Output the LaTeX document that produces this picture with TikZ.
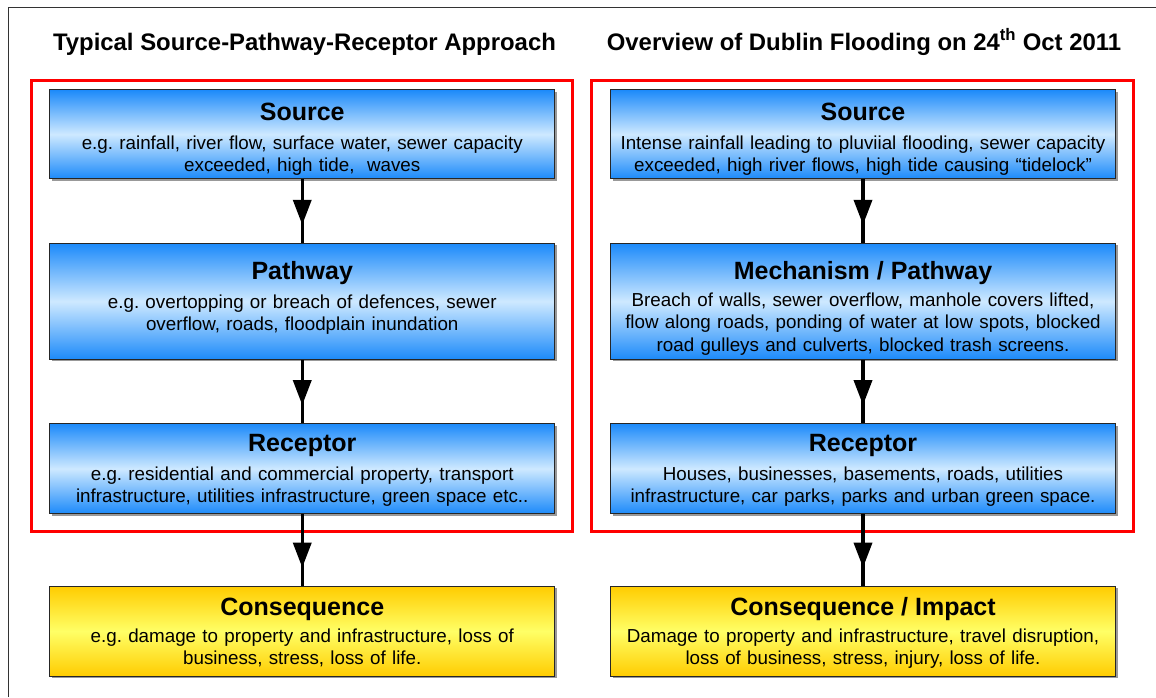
\documentclass[tikz,border=0pt]{standalone}
\usepackage{fontspec}
\setmainfont{Liberation Sans}
\usetikzlibrary{arrows.meta,decorations.markings,shadows}
\definecolor{bTop}{RGB}{28,138,250}
\definecolor{bMid}{RGB}{206,233,255}
\definecolor{yTop}{RGB}{255,204,0}
\definecolor{yMid}{RGB}{255,255,102}
\definecolor{frameRed}{RGB}{255,0,0}
\frenchspacing
\begin{document}
\frenchspacing
\begin{tikzpicture}[x=1pt,y=-1pt,
  box/.style={draw=black!85, line width=1.1pt, minimum width=505pt, inner sep=0pt,
    general shadow={fill=black!40, shadow xshift=2pt, shadow yshift=-2pt}},
  bluebox/.style={box, top color=bTop, bottom color=bTop, middle color=bMid},
  yellowbox/.style={box, top color=yTop, bottom color=yTop, middle color=yMid},
  heading/.style={font=\fontsize{23.9}{28}\selectfont\bfseries, anchor=base, inner sep=0pt},
  boxtitle/.style={font=\fontsize{25}{30}\selectfont\bfseries, anchor=base, inner sep=0pt},
  boxbody/.style={font=\fontsize{18.8}{22.8}\selectfont, anchor=base, inner sep=0pt, align=center, text width=500pt},
  redframe/.style={draw=frameRed, line width=3pt},
  flow/.style={line width=3.5pt, black, decoration={markings,
    mark=at position -18pt with {\arrow{Triangle[width=18pt,length=25pt]}}}, postaction={decorate}}
]
\useasboundingbox (0,0) rectangle (1156,697);
% outer border (clipped)
\draw[black!80, line width=1pt] (8.5,697) -- (8.5,7.5) -- (1156,7.5);

% headings
\node[heading] (h1) at (304.5,50) {Typical Source-Pathway-Receptor Approach};
\node[heading] (h2) at (864,50) {Overview of Dublin Flooding on 24\textsuperscript{th} Oct 2011};

% red frames
\draw[redframe] (31.5,80.5) rectangle (572.5,531.5);
\draw[redframe] (591.5,80.5) rectangle (1133.5,531.5);

% ---------- left column ----------
\node[bluebox, minimum height=89pt] (s1) at (302.25,134.3) {};
\node[boxtitle] at (302.25,120) {Source};
\node[boxbody] at (302.25,149) {e.g.\ rainfall, river flow, surface water, sewer capacity\\exceeded, high tide,\ \ waves};

\node[bluebox, minimum height=116pt] (p1) at (302.25,301.4) {};
\node[boxtitle] at (302.25,279) {Pathway};
\node[boxbody] at (302.25,308) {e.g.\ overtopping or breach of defences, sewer\\overflow, roads, floodplain inundation};

\node[bluebox, minimum height=90pt] (r1) at (302.25,468.7) {};
\node[boxtitle] at (302.25,451) {Receptor};
\node[boxbody] at (302.25,480) {e.g.\ residential and commercial property, transport\\infrastructure, utilities infrastructure, green space etc..};

\node[yellowbox, minimum height=90pt] (c1) at (302.25,631.2) {};
\node[boxtitle] at (302.25,615) {Consequence};
\node[boxbody] at (302.25,642) {e.g.\ damage to property and infrastructure, loss of\\business, stress, loss of life.};

% ---------- right column ----------
\node[bluebox, minimum height=89pt] (s2) at (863,134.3) {};
\node[boxtitle] at (863,120) {Source};
\node[boxbody] at (863,149) {Intense rainfall leading to pluviial flooding, sewer capacity\\exceeded, high river flows, high tide causing “tidelock”};

\node[bluebox, minimum height=116pt] (p2) at (863,301.4) {};
\node[boxtitle] at (863,279) {Mechanism / Pathway};
\node[boxbody] at (863,306) {Breach of walls, sewer overflow, manhole covers lifted,\\flow along roads, ponding of water at low spots, blocked\\road gulleys and culverts, blocked trash screens.};

\node[bluebox, minimum height=90pt] (r2) at (863,468.7) {};
\node[boxtitle] at (863,451) {Receptor};
\node[boxbody] at (863,480) {Houses, businesses, basements, roads, utilities\\infrastructure, car parks, parks and urban green space.};

\node[yellowbox, minimum height=90pt] (c2) at (863,631.2) {};
\node[boxtitle] at (863,615) {Consequence / Impact};
\node[boxbody] at (863,642) {Damage to property and infrastructure, travel disruption,\\loss of business, stress, injury, loss of life.};

% connectors
\draw[flow] (s1.south) -- (p1.north);
\draw[flow] (p1.south) -- (r1.north);
\draw[flow] (r1.south) -- (c1.north);
\draw[flow] (s2.south) -- (p2.north);
\draw[flow] (p2.south) -- (r2.north);
\draw[flow] (r2.south) -- (c2.north);
\end{tikzpicture}
\end{document}
